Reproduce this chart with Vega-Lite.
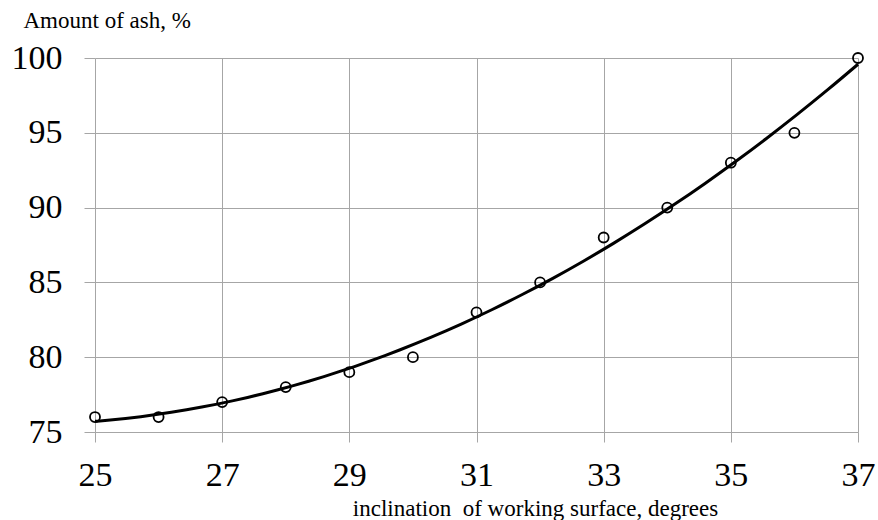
{
  "$schema": "https://vega.github.io/schema/vega-lite/v6.json",
  "autosize": "none",
  "width": 763,
  "height": 374,
  "padding": {"left": 95, "top": 58, "right": 20, "bottom": 88},
  "background": "white",
  "config": {
    "view": {"stroke": null},
    "font": "Liberation Serif"
  },
  "data": {"values": [
    {"x": 25, "y": 76},
    {"x": 26, "y": 76},
    {"x": 27, "y": 77},
    {"x": 28, "y": 78},
    {"x": 29, "y": 79},
    {"x": 30, "y": 80},
    {"x": 31, "y": 83},
    {"x": 32, "y": 85},
    {"x": 33, "y": 88},
    {"x": 34, "y": 90},
    {"x": 35, "y": 93},
    {"x": 36, "y": 95},
    {"x": 37, "y": 100}
  ]},
  "encoding": {
    "x": {
      "field": "x", "type": "quantitative",
      "scale": {"domain": [25, 37], "nice": false, "zero": false},
      "axis": {
        "values": [25, 27, 29, 31, 33, 35, 37],
        "grid": true, "gridColor": "#a6a6a6", "gridWidth": 1,
        "domain": true, "domainColor": "#a6a6a6",
        "ticks": true, "tickColor": "#a6a6a6", "tickSize": 10,
        "labelFont": "Liberation Serif", "labelFontSize": 34, "labelColor": "#000",
        "labelPadding": 16, "labelFlush": false, "labelOverlap": false,
        "title": "inclination\u00a0 of working surface, degrees",
        "titleFont": "Liberation Serif", "titleFontSize": 23, "titleFontWeight": "normal", "titleColor": "#000",
        "titleX": 440, "titleY": 83, "titleAnchor": null, "titleAlign": "center", "titleBaseline": "alphabetic"
      }
    },
    "y": {
      "field": "y", "type": "quantitative",
      "scale": {"domain": [75, 100], "nice": false, "zero": false},
      "axis": {
        "values": [75, 80, 85, 90, 95, 100],
        "grid": true, "gridColor": "#a6a6a6", "gridWidth": 1,
        "domain": false,
        "ticks": true, "tickColor": "#a6a6a6", "tickSize": 11,
        "labelFont": "Liberation Serif", "labelFontSize": 34, "labelColor": "#000",
        "labelPadding": 22, "labelFlush": false, "labelOverlap": false,
        "title": "Amount of ash, %",
        "titleFont": "Liberation Serif", "titleFontSize": 23, "titleFontWeight": "normal", "titleColor": "#000",
        "titleAngle": 0, "titleX": -72, "titleY": -31, "titleAlign": "left", "titleBaseline": "alphabetic", "titleAnchor": null
      }
    }
  },
  "layer": [
    {
      "transform": [{"regression": "y", "on": "x", "method": "poly", "order": 2, "extent": [25, 37]}],
      "mark": {"type": "line", "color": "#000", "strokeWidth": 3, "interpolate": "monotone"}
    },
    {
      "mark": {"type": "point", "shape": "circle", "filled": false, "stroke": "#000", "strokeWidth": 1.8, "size": 100, "opacity": 1}
    }
  ]
}
